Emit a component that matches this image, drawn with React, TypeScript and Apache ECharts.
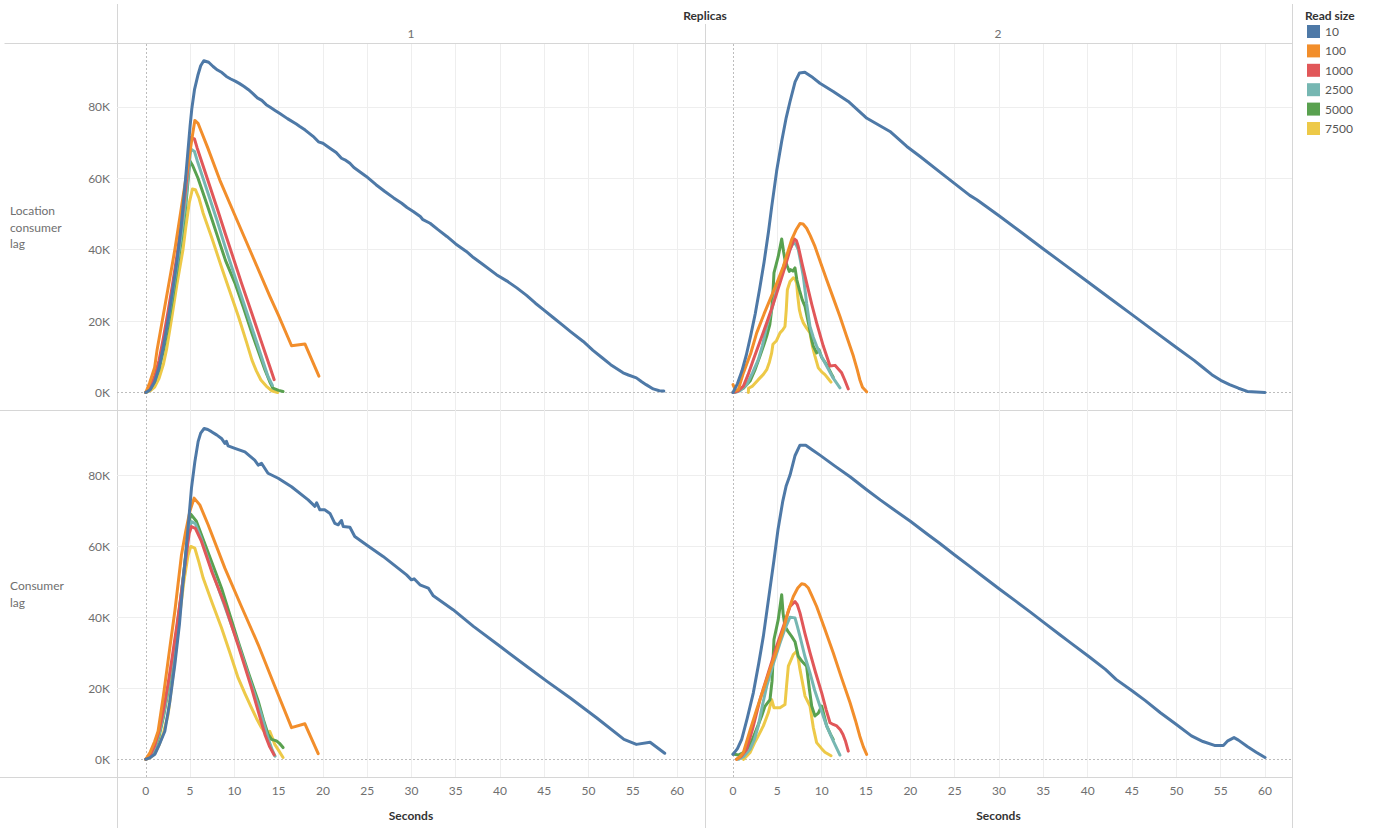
import React, { useEffect, useRef } from "react";
import * as echarts from "echarts";

// ---- categories / ticks ----
const readSizes = ["10", "100", "1000", "2500", "5000", "7500"];
const colors = ["#4e79a7", "#f28e2b", "#e15759", "#76b7b2", "#59a14f", "#edc948"];
const replicas = ["1", "2"];
const measures = ["Location\nconsumer\nlag", "Consumer\nlag"];
const xTicks = [0, 5, 10, 15, 20, 25, 30, 35, 40, 45, 50, 55, 60];
const yTicks = [0, 20000, 40000, 60000, 80000];

// ---- series values: [seconds, lag in thousands] ----
// Location consumer lag, replicas 1
const loc1_10 = [[0,0],[0.5,0.8],[1,3],[1.5,7],[2,13],[2.5,20],[3,28],[3.5,36.5],[4,46.5],[4.5,60],[5,74.5],[5.2,79.5],[5.5,84.8],[5.9,89],[6.2,91.5],[6.55,92.9],[7.1,92.5],[7.6,91.3],[8.1,90.3],[8.6,89.6],[9.1,88.5],[9.6,87.8],[10.1,87.2],[10.6,86.5],[11.1,85.7],[11.6,84.8],[12.1,83.7],[12.6,82.5],[13.1,81.8],[13.6,80.6],[14.1,79.8],[14.6,79],[15.1,78.2],[16,76.7],[17,75.2],[17.4,74.5],[18,73.5],[19,71.5],[19.5,70.2],[20,69.8],[20.8,68.4],[21.5,67.2],[22.1,65.6],[22.6,65],[23.05,64.2],[23.5,63],[24.9,60.5],[26,58.2],[27,56.3],[28,54.5],[28.9,53],[29.5,51.8],[30.2,50.7],[31,49.3],[31.3,48.4],[32.1,47.4],[33,45.6],[34,43.7],[35,41.6],[36.2,39.5],[37,37.8],[38,36],[39.6,33],[40.8,31.2],[41.9,29.3],[43,27.2],[44,25],[44.9,23.2],[46,21],[47,19],[48,17],[49.4,14.3],[50.5,11.8],[51.5,9.8],[52.5,7.8],[53.9,5.5],[54.5,4.9],[55.4,4.1],[56,3],[56.5,2.2],[57.3,1],[58,0.5],[58.5,0.4]];
const loc1_100 = [[0,0],[0.45,2.8],[1,7],[1.28,12],[2,22],[2.5,29],[3,36],[3.28,40],[4,51.5],[4.5,59.5],[5,67.5],[5.3,72.5],[5.54,76.2],[5.9,75.4],[6.2,73.5],[7,68.5],[8.36,59.5],[10,50],[12,38.5],[14,27],[15,21.5],[16.46,13.1],[17.97,13.6],[19.55,4.6]];
const loc1_1000 = [[0,0],[0.5,1.5],[1,4.5],[1.5,9],[2,15.5],[2.5,22.5],[3,30],[3.5,38],[4,47],[4.5,57],[4.8,64],[5.08,71.4],[5.5,71],[5.8,68.5],[7,59.5],[8,52],[9,44.3],[10,36.8],[10.8,30.7],[12,22],[13,14.6],[14,7.3],[14.5,3.6]];
const loc1_2500 = [[0,0],[0.5,1],[1,3.5],[1.5,7.5],[2,13.5],[2.5,20],[3,27.5],[3.5,35.5],[4,44],[4.5,53.5],[4.8,61],[5.08,68.2],[5.5,67.5],[5.8,65],[7,56],[8,48.5],[9,40.5],[10.3,30.7],[11,25.5],[12,18],[13,10.5],[13.8,4.5],[14.3,2]];
const loc1_5000 = [[0,0],[0.5,1],[1,3],[1.5,6.5],[2,12],[2.5,18.5],[3,26],[3.5,34],[4,42.5],[4.5,52],[4.8,60],[4.97,64.9],[5.3,63.5],[5.9,60],[7,52],[8,44.5],[9,37],[10.06,30.7],[11,24],[12,16.5],[13,9.5],[13.45,6.4],[14,3],[14.35,1.2],[15,0.6],[15.5,0.3]];
const loc1_7500 = [[0,0],[0.5,0.5],[1,1.5],[1.5,4],[2,8],[2.34,12],[3,22],[3.5,30],[4.2,40],[4.5,46],[4.9,53],[5.27,57],[5.6,56.8],[6,54.5],[6.48,50.2],[7.5,43],[8.5,35.5],[9.3,29.7],[10.5,21],[11.4,13.9],[12,9],[12.5,6],[13,3.5],[13.6,1.8],[14.2,0.5],[14.9,0]];

// Location consumer lag, replicas 2
const loc2_10 = [[0,0],[0.5,2.5],[1,6],[1.5,10.5],[2,16],[2.5,22],[3,29],[3.5,36.5],[4,45],[4.36,52],[4.92,62],[5.5,70.5],[6,77],[6.43,81.5],[7,87],[7.5,89.5],[8.1,89.7],[9,88.2],[9.8,86.6],[11.3,84.3],[13,81.5],[15.1,76.8],[17.7,73.1],[19.6,68.9],[21.1,66.1],[23.7,61],[26.7,55.2],[27.5,54],[30,49.5],[32.5,44.9],[35,40.2],[37.5,35.6],[40,31],[42.5,26.4],[45,21.8],[47.5,17.2],[50,12.6],[52,9],[53,7],[54,5],[55,3.4],[56,2.2],[57,1.2],[58,0.3],[60,0]];
const loc2_100 = [[0,2.2],[0.3,0.5],[0.6,0.8],[1.17,5.5],[2,11],[2.67,16.7],[3.5,22],[4.17,26],[5,31],[5.67,35.3],[6.2,39.5],[6.61,42.8],[7.1,45.5],[7.55,47.3],[7.9,47.2],[8.3,46],[8.7,44],[9.24,40.9],[10,35.5],[10.56,31.6],[11.3,26.5],[12.06,21.3],[12.8,15.8],[13.57,10.2],[14,6.5],[14.3,3.6],[14.6,1.5],[15.07,0.2]];
const loc2_1000 = [[0,0],[0.6,0.5],[1.17,1.8],[1.7,5],[2.29,9.2],[3,14],[3.8,19.5],[4.5,24.5],[5.3,30.7],[5.9,35.5],[6.43,40],[6.91,43],[7.15,42.5],[7.36,40.9],[7.8,36],[8.3,30.7],[8.9,24.5],[9.43,19.5],[10.18,13],[10.94,7.4],[11.5,7.6],[12.25,5.5],[12.6,3.5],[13,1]];
const loc2_2500 = [[0.2,0],[0.8,0.5],[1.54,2.2],[2.2,5.5],[2.85,9.2],[3.3,13],[3.8,18.5],[4.4,23.5],[4.92,28.8],[5.5,33.5],[6.05,38.1],[6.5,40.5],[6.8,41.9],[7.1,41.5],[7.36,40],[7.6,37],[7.93,32.5],[8.3,25],[8.68,18.5],[9.05,15.5],[9.43,13],[10,10],[10.56,7.4],[11.3,4],[12.06,1.3]];
const loc2_5000 = [[0,0],[0.6,0.5],[1.17,1.2],[1.92,3.2],[2.5,6.5],[3.04,10.2],[3.5,13.5],[3.8,15.8],[4.15,19],[4.36,23.2],[4.5,28],[4.62,33.5],[5.1,38.1],[5.49,43],[5.7,39.5],[5.86,37.2],[6.1,35.5],[6.35,33.9],[6.5,34.4],[6.75,34],[6.99,34.9],[7.2,31.5],[7.48,28.8],[7.8,26],[8.12,24.1],[8.5,19.5],[8.87,14.8],[9.05,13],[9.43,11.1],[9.7,12],[10,9.8],[10.56,7.8],[11.1,5.2],[11.3,4.3]];
const loc2_7500 = [[1.73,0],[1.75,1.2],[2.2,1.8],[2.85,3.6],[3.4,5],[3.8,6.4],[4.1,8.5],[4.36,11.1],[4.5,13.5],[4.9,14.5],[5.3,16.7],[5.6,17.5],[5.86,18.5],[6,23],[6.13,28.8],[6.43,31.1],[6.8,32.1],[7,31.8],[7.17,30.7],[7.3,27],[7.48,23.2],[7.7,21],[7.93,19.5],[8.3,18],[8.68,16.7],[8.95,13],[9.24,10.2],[9.62,6.9],[10,5.8],[10.37,5],[10.7,4],[11.05,2.9]];

// Consumer lag, replicas 1
const cons1_10 = [[0,0],[0.5,0.5],[1.02,1.4],[1.5,4],[2.15,7.9],[2.7,16],[3.28,26.7],[3.8,38],[4.21,50],[4.7,63],[5.16,76.3],[5.54,83.7],[5.91,89.4],[6.2,91.8],[6.59,93.1],[7,92.8],[7.42,92.2],[8,91.3],[8.55,90.3],[8.93,88.9],[9.1,89.5],[9.3,88.2],[10.06,87.5],[11.19,86.5],[12.3,84.2],[12.7,82.8],[13.07,83.3],[13.8,80.5],[14.95,79.1],[16.46,76.7],[18.34,73],[19.1,71.2],[19.3,72.2],[19.66,70.2],[20.2,70.2],[20.8,69.2],[21.35,66.4],[21.73,66],[22.1,67.2],[22.3,65.5],[23.05,65.3],[23.6,62.7],[24.9,60.4],[26.8,57.1],[29.45,51.9],[30,50.5],[30.3,50.8],[30.96,49.1],[31.9,48.2],[32.47,46],[34.7,42.1],[37,37.4],[40,31.8],[43,26.2],[45.27,22],[47.9,17.3],[50.9,11.7],[54,5.6],[55.4,4.2],[56.95,4.8],[58.6,1.7]];
const cons1_100 = [[0,0],[0.5,2],[1,5],[1.39,7.9],[2,18],[2.71,31.3],[3.3,42],[4.03,57.5],[4.5,64],[5,70],[5.46,73.5],[6.1,71.6],[7.04,66],[8.93,53.8],[10.8,43],[12.69,32.3],[14.5,21],[16.46,8.9],[17.97,10],[19.47,1.6]];
const cons1_1000 = [[0,0],[0.5,1.2],[1,3.8],[1.5,8],[2,14],[2.5,21],[3,29],[3.5,37.5],[4,46.5],[4.5,56],[4.9,63.5],[5.16,65.5],[5.6,65],[6.29,61.3],[7.5,52.5],[8.93,43.5],[10.5,31.5],[11.94,20.1],[12.7,13.5],[13.45,7],[14,3.5],[14.5,1.2]];
const cons1_2500 = [[0,0],[0.5,1],[1,3.2],[1.5,7],[2,12.5],[2.5,19.5],[3,27.5],[3.5,36.5],[4,46.5],[4.5,57],[4.9,65],[5.16,66.9],[5.6,66.3],[6.2,62.5],[7.5,53],[9,42.5],[10.5,32],[12,20.5],[13,13],[13.8,6],[14.3,2.5],[14.6,0.9]];
const cons1_5000 = [[0,0],[0.5,1],[1,3],[1.5,6.5],[2,12],[2.5,19],[3,27],[3.5,36],[4,46],[4.5,57],[4.85,66],[5.08,69],[5.71,67],[6.86,59.4],[8.55,48.2],[10.43,33.2],[11.5,25],[12.69,16.4],[13.3,11],[13.82,7],[14.2,5.6],[14.76,5.2],[15.1,4.5],[15.5,3.3]];
const cons1_7500 = [[0,0],[0.5,0.5],[1,1.5],[1.5,4],[2,7.5],[2.52,12.6],[3.2,26],[3.84,40.7],[4.3,50],[4.78,57.5],[5.08,59.9],[5.54,59.4],[6,55.5],[6.48,51],[7.5,44],[8.55,37],[9.5,30],[10.43,22.9],[11.2,18.5],[11.94,14.5],[12.5,11.5],[13.07,8.9],[13.6,7],[14,7.9],[14.3,6],[14.57,4.2],[15,2.5],[15.5,0.5]];

// Consumer lag, replicas 2
const cons2_10 = [[0,1.4],[0.5,3],[0.98,5.6],[1.6,11.5],[2.29,18.7],[2.9,27],[3.42,34.6],[4,45],[4.62,56.1],[5.07,64.6],[5.6,72.5],[6,77],[6.43,80],[7,85.5],[7.55,88.4],[8.2,88.4],[9,87],[9.8,85.6],[11.5,82.5],[13.2,79.5],[15,76],[16.6,73],[18,70.5],[20,67],[22,63.2],[23.3,60.8],[25,57.5],[26.7,54.3],[28,51.8],[30,48],[32,44.3],[33.5,41.5],[35,38.6],[36.9,35],[38,32.9],[40.2,28.8],[42,25.3],[43.2,22.5],[45,19.3],[46.5,16.5],[48.2,13.1],[50,9.8],[51.7,6.6],[53,5],[54.3,3.9],[55.3,3.9],[55.8,5.2],[56.5,6.1],[57,5.4],[58,3.6],[59,2],[60,0.5]];
const cons2_100 = [[0.4,0],[0.8,0.8],[1.17,1.9],[1.9,8],[2.67,14],[3.4,19.5],[4.17,25.3],[4.9,30.5],[5.67,36.5],[6.2,41.5],[6.8,45.8],[7.3,48.2],[7.74,49.4],[8.1,49.2],[8.5,48.2],[8.9,46],[9.43,43],[10.3,37],[11.3,30],[12.2,23.2],[13.2,15.9],[13.8,11],[14.3,6.5],[14.7,3.5],[15.07,1.4]];
const cons2_1000 = [[0.4,0],[0.9,0.8],[1.54,2.8],[2.2,8.5],[3.04,16.8],[4,24.5],[4.92,31.8],[5.7,37.5],[6.43,43],[6.99,44.4],[7.25,43.5],[7.55,41.2],[8.1,35.5],[8.68,30],[9.3,24.5],[10,18.7],[10.5,14],[10.94,10.3],[11.3,9.8],[11.7,9.4],[12.1,8.3],[12.4,7],[12.7,5],[13,2.3]];
const cons2_2500 = [[0.6,0],[1.2,0.8],[1.92,2.8],[2.4,5.5],[2.85,9.4],[3.3,15],[3.8,20.6],[4.5,26.5],[5.3,32.7],[5.9,37],[6.43,40],[6.99,39.8],[7.25,37.5],[7.55,34.6],[8.1,29],[8.68,24.3],[9.2,19.5],[9.8,15],[10.2,12],[10.56,9.4],[11.3,5.2],[12.06,1.2]];
const cons2_5000 = [[0,1.5],[0.6,1.2],[1.17,1.9],[1.73,2.8],[2.5,7.5],[3.23,12.2],[3.6,14.9],[4.17,16.8],[4.4,22],[4.62,33.7],[5.1,39.3],[5.49,46.3],[5.65,41],[5.86,37.4],[6.2,36],[6.61,34.6],[6.99,33.1],[7.36,29],[7.8,27.5],[8.3,26.2],[8.6,20],[8.87,15],[9.24,12.2],[9.62,13],[10,15],[10.3,12],[10.56,9.4],[11,7],[11.3,5.6]];
const cons2_7500 = [[1.17,0],[1.5,0.8],[1.92,1.9],[2.4,4.5],[2.85,6.6],[3.42,9.4],[3.98,13.1],[4.36,16.8],[4.62,14.5],[5.3,14.5],[5.86,15.4],[6.05,21],[6.24,26.2],[6.8,29.5],[7.17,30.4],[7.35,28.5],[7.55,25.3],[8.12,17.8],[8.68,15],[9.05,9],[9.43,4.7],[10,3],[10.37,2],[11.05,1]];

const panelData = [
  [loc1_10, loc1_100, loc1_1000, loc1_2500, loc1_5000, loc1_7500],
  [loc2_10, loc2_100, loc2_1000, loc2_2500, loc2_5000, loc2_7500],
  [cons1_10, cons1_100, cons1_1000, cons1_2500, cons1_5000, cons1_7500],
  [cons2_10, cons2_100, cons2_1000, cons2_2500, cons2_5000, cons2_7500],
];

const FONT = "Lato";
const GRID_LINE = "#eeeeee";
const BORDER = "#d6d6d6";

export default function App() {
  const ref = useRef<HTMLDivElement>(null);

  useEffect(() => {
    if (!ref.current) return;
    const chart = echarts.init(ref.current, null, { renderer: "svg" });

    const grids = [
      { left: 117, top: 44, width: 588, height: 366 },
      { left: 705, top: 44, width: 587, height: 366 },
      { left: 117, top: 410, width: 588, height: 367 },
      { left: 705, top: 410, width: 587, height: 367 },
    ];
    const xRange = [
      [-3.25, 63.15],
      [-3.16, 63.04],
    ];
    const yRange = [
      [-4900, 97600],
      [-4980, 98300],
    ];

    const xAxis: any[] = grids.map((_, i) => {
      const bottom = i >= 2;
      const col = i % 2;
      return {
        type: "value",
        gridIndex: i,
        min: xRange[col][0],
        max: xRange[col][1],
        axisLine: { show: false },
        axisTick: { show: false },
        splitLine: { show: false },
        axisLabel: {
          show: bottom,
          customValues: xTicks,
          margin: 7,
          color: "#6f6f6f",
          fontFamily: FONT,
          fontSize: 12,
        },
        name: bottom ? "Seconds" : "",
        nameLocation: "middle",
        nameGap: 32,
        nameTextStyle: { fontFamily: FONT, fontWeight: "bold", fontSize: 12, color: "#333" },
      };
    });

    const yAxis: any[] = grids.map((_, i) => {
      const row = i >= 2 ? 1 : 0;
      const left = i % 2 === 0;
      return {
        type: "value",
        gridIndex: i,
        min: yRange[row][0],
        max: yRange[row][1],
        axisLine: { show: false },
        axisTick: { show: false },
        splitLine: { show: false },
        axisLabel: {
          show: left,
          customValues: yTicks,
          margin: 7,
          color: "#6f6f6f",
          fontFamily: FONT,
          fontSize: 12,
          formatter: (v: number) => Math.round(v / 1000) + "K",
        },
      };
    });

    const series: any[] = [];
    grids.forEach((_, gi) => {
      const lineData: any[] = [];
      xTicks.forEach((v) => {
        if (v !== 0) lineData.push({ xAxis: v, lineStyle: { color: GRID_LINE, width: 1, type: "solid" } });
      });
      yTicks.forEach((v) => {
        if (v !== 0) lineData.push({ yAxis: v, lineStyle: { color: GRID_LINE, width: 1, type: "solid" } });
      });
      lineData.push({ xAxis: 0, lineStyle: { color: "#bdbdbd", width: 1, type: [2, 2] } });
      lineData.push({ yAxis: 0, lineStyle: { color: "#bdbdbd", width: 1, type: [2, 2] } });
      series.push({
        type: "line",
        name: "__grid" + gi,
        xAxisIndex: gi,
        yAxisIndex: gi,
        data: [[0, 0]],
        symbol: "none",
        lineStyle: { opacity: 0 },
        silent: true,
        z: 0,
        zlevel: 0,
        markLine: {
          silent: true,
          z: 0,
          symbol: ["none", "none"],
          label: { show: false },
          emphasis: { disabled: true },
          animation: false,
          data: lineData,
        },
      });
      for (let si = readSizes.length - 1; si >= 0; si--) {
        series.push({
          type: "line",
          name: readSizes[si],
          xAxisIndex: gi,
          yAxisIndex: gi,
          data: panelData[gi][si].map((p) => [p[0], p[1] * 1000]),
          showSymbol: false,
          symbol: "none",
          color: colors[si],
          lineStyle: { width: 3, color: colors[si], join: "round", cap: "round" },
          itemStyle: { color: colors[si] },
          emphasis: { disabled: true },
          silent: true,
          z: 10,
        });
      }
    });

    const line = (x1: number, y1: number, x2: number, y2: number) => ({
      type: "line",
      silent: true,
      shape: { x1, y1, x2, y2 },
      style: { stroke: BORDER, lineWidth: 1 },
    });
    const text = (t: string, x: number, y: number, opts: any = {}) => ({
      type: "text",
      silent: true,
      x,
      y,
      style: {
        text: t,
        fill: opts.fill || "#6f6f6f",
        font: `${opts.weight || "normal"} ${opts.size || 12}px ${FONT}`,
        align: opts.align || "left",
        verticalAlign: "middle",
        lineHeight: opts.lineHeight || 14,
      },
    });

    const graphic: any[] = [
      line(4.5, 43.5, 1292.5, 43.5),
      line(0, 410.5, 1292.5, 410.5),
      line(0, 777.5, 1292.5, 777.5),
      line(117.5, 4, 117.5, 828),
      line(705.5, 24, 705.5, 828),
      line(1292.5, 4, 1292.5, 828),
      text("Replicas", 705, 15, { weight: "bold", fill: "#333", align: "center" }),
      text(replicas[0], 411, 33, { align: "center" }),
      text(replicas[1], 998, 33, { align: "center" }),
      text(measures[0], 10, 227, { lineHeight: 16.5 }),
      text(measures[1], 10, 594, { lineHeight: 16.5 }),
      text("Read size", 1305, 15, { weight: "bold", fill: "#333" }),
    ];

    chart.setOption({
      animation: false,
      backgroundColor: "#ffffff",
      textStyle: { fontFamily: FONT },
      grid: grids.map((g) => ({ ...g, containLabel: false })),
      xAxis,
      yAxis,
      legend: {
        data: readSizes.map((n) => ({ name: n, icon: "rect" })),
        orient: "vertical",
        left: 1302,
        top: 20,
        itemWidth: 13,
        itemHeight: 13,
        itemGap: 6.4,
        selectedMode: false,
        textStyle: { fontFamily: FONT, fontSize: 12, color: "#555", padding: [0, 0, 0, 0] },
      },
      graphic,
      series,
    });

    return () => chart.dispose();
  }, []);

  return (
    <div
      ref={ref}
      style={{ position: "fixed", left: 0, top: 0, width: 1376, height: 828, background: "#fff" }}
    />
  );
}
